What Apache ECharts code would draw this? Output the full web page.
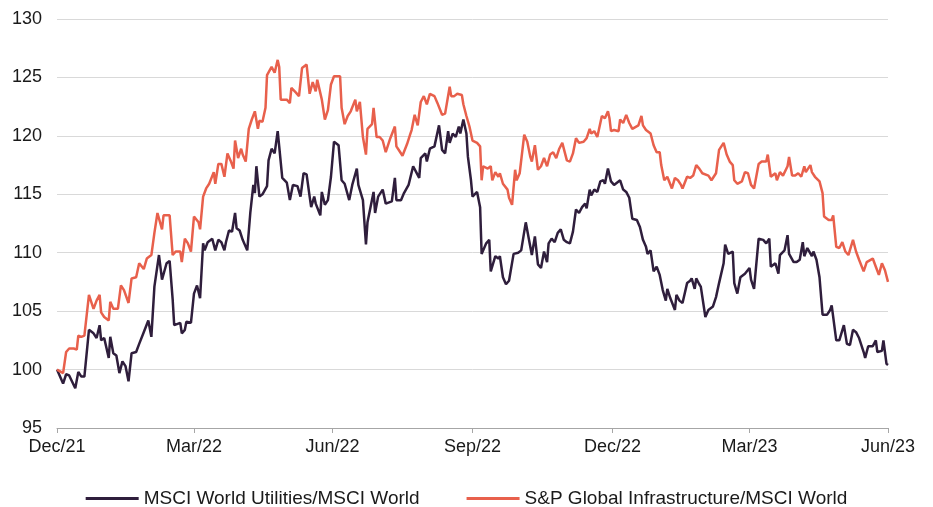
<!DOCTYPE html>
<html>
<head>
<meta charset="utf-8">
<title>Utilities vs Infrastructure relative to MSCI World</title>
<script src="https://cdn.jsdelivr.net/npm/echarts@6/dist/echarts.min.js"></script>
<style>
  html, body { margin: 0; padding: 0; background: #fff; }
  #chart { width: 933px; height: 507px; }
</style>
</head>
<body>
<div id="chart"></div>
<script>
// days since 31 Dec 2021 (start of the index = 100)
var utilDays = [0, 4, 6, 8, 12, 14, 16, 18, 21, 24, 26, 28, 29, 31, 34, 35, 37, 39, 41, 43, 45, 47, 49, 52, 54, 57, 60, 62, 64, 67, 69, 72, 74, 76, 77, 81, 82, 84, 85, 88, 90, 92, 94, 96, 97, 99, 102, 104, 106, 108, 110, 111, 113, 115, 117, 118, 120, 122, 125, 127, 129, 130, 131, 133, 135, 138, 139, 141, 143, 145, 146, 148, 151, 153, 155, 158, 160, 162, 164, 166, 167, 169, 170, 173, 174, 176, 178, 180, 182, 185, 187, 189, 192, 194, 197, 198, 201, 203, 204, 208, 209, 211, 214, 216, 220, 222, 223, 226, 228, 231, 234, 236, 238, 239, 242, 243, 245, 248, 251, 253, 255, 257, 258, 260, 262, 264, 265, 267, 269, 270, 272, 273, 276, 278, 279, 282, 284, 285, 288, 290, 291, 293, 295, 297, 300, 303, 305, 308, 310, 312, 314, 316, 318, 320, 322, 323, 325, 327, 329, 331, 333, 335, 337, 339, 341, 343, 345, 347, 348, 350, 351, 353, 355, 357, 359, 360, 362, 364, 366, 370, 372, 374, 376, 378, 381, 383, 385, 387, 388, 390, 392, 394, 396, 398, 400, 401, 403, 406, 407, 409, 411, 414, 416, 417, 419, 420, 422, 423, 426, 428, 431, 433, 435, 438, 439, 441, 444, 445, 447, 449, 452, 455, 456, 458, 461, 464, 466, 468, 469, 472, 474, 475, 478, 480, 481, 484, 486, 488, 490, 491, 493, 496, 497, 499, 501, 503, 506, 508, 509, 512, 514, 517, 519, 521, 523, 525, 527, 530, 531, 533, 536, 538, 539, 542, 543, 545, 546];
var utilValues = [100.0, 98.8, 99.6, 99.5, 98.4, 99.8, 99.4, 99.4, 103.4, 103.1, 102.7, 103.8, 102.5, 102.7, 101.0, 102.8, 101.4, 101.2, 99.7, 100.7, 100.3, 99.0, 101.4, 101.5, 102.2, 103.2, 104.2, 102.8, 107.1, 109.8, 107.7, 109.1, 109.3, 106.0, 103.8, 104.0, 103.1, 103.4, 104.1, 104.0, 106.5, 107.2, 106.1, 110.8, 110.2, 110.9, 111.2, 110.2, 111.1, 110.9, 110.2, 110.9, 111.9, 111.8, 113.4, 112.1, 111.9, 111.1, 110.2, 113.4, 115.8, 115.1, 117.4, 114.8, 115.0, 115.7, 117.9, 118.9, 118.5, 120.4, 119.1, 116.4, 116.0, 114.5, 115.8, 115.7, 114.8, 116.8, 116.7, 114.8, 113.9, 114.8, 114.2, 113.2, 115.2, 114.1, 114.5, 116.5, 119.5, 119.2, 116.2, 115.9, 114.5, 115.8, 117.2, 115.8, 114.5, 110.7, 112.6, 115.2, 113.4, 114.8, 115.4, 114.2, 114.4, 116.4, 114.5, 114.5, 115.1, 115.8, 117.4, 116.9, 116.4, 118.1, 118.5, 117.8, 118.9, 119.1, 120.9, 118.8, 118.5, 120.4, 119.4, 120.2, 119.9, 120.8, 120.2, 121.4, 120.2, 118.2, 116.2, 114.8, 115.2, 113.9, 109.9, 110.8, 111.1, 108.4, 109.7, 109.5, 109.7, 107.9, 107.3, 107.6, 109.9, 110.0, 110.2, 112.6, 111.2, 109.8, 111.4, 109.0, 108.7, 110.1, 109.2, 110.8, 111.2, 110.9, 111.7, 112.0, 111.1, 110.9, 110.8, 111.8, 113.7, 113.4, 113.9, 114.2, 113.8, 115.4, 114.9, 115.4, 115.2, 116.1, 116.2, 115.9, 117.2, 116.1, 115.8, 116.2, 115.4, 115.2, 114.7, 112.9, 112.8, 112.2, 111.1, 110.5, 109.9, 110.2, 108.4, 108.8, 108.1, 106.8, 105.9, 106.9, 106.1, 105.1, 106.4, 105.9, 105.7, 107.4, 107.6, 107.8, 106.9, 107.8, 107.3, 107.1, 104.5, 105.1, 105.4, 106.2, 107.4, 109.1, 110.7, 109.9, 110.1, 107.4, 106.5, 107.9, 108.2, 108.7, 107.7, 106.9, 111.2, 111.1, 110.8, 111.2, 108.8, 109.1, 108.2, 109.8, 110.2, 111.5, 109.9, 109.2, 109.2, 109.4, 110.9, 109.7, 110.4, 109.7, 110.1, 109.4, 107.9, 104.7, 104.7, 105.1, 105.5, 102.5, 102.5, 103.8, 102.2, 102.1, 103.4, 103.2, 102.7, 101.5, 101.0, 102.0, 102.0, 102.5, 101.5, 101.6, 102.5, 100.5, 100.4];

var infraDays = [0, 4, 6, 8, 11, 13, 14, 16, 18, 21, 24, 26, 28, 29, 31, 34, 35, 37, 40, 42, 44, 47, 49, 52, 54, 57, 59, 62, 64, 66, 69, 70, 74, 76, 78, 81, 82, 84, 86, 88, 90, 93, 94, 96, 98, 100, 103, 104, 106, 108, 110, 112, 114, 116, 117, 119, 121, 122, 124, 126, 128, 130, 132, 133, 135, 137, 138, 141, 143, 145, 146, 147, 151, 153, 154, 157, 159, 161, 164, 165, 166, 168, 170, 171, 174, 176, 178, 180, 182, 186, 187, 189, 191, 193, 196, 197, 199, 201, 203, 204, 207, 208, 210, 212, 214, 216, 219, 222, 223, 225, 227, 230, 232, 233, 235, 237, 239, 241, 243, 245, 248, 250, 253, 255, 258, 259, 261, 263, 266, 267, 269, 271, 273, 276, 278, 279, 280, 283, 285, 286, 288, 290, 291, 293, 296, 297, 299, 301, 302, 304, 307, 309, 311, 312, 314, 316, 318, 320, 322, 324, 326, 328, 330, 332, 335, 337, 339, 341, 343, 346, 348, 350, 351, 353, 355, 357, 358, 360, 362, 363, 364, 366, 369, 370, 372, 374, 376, 378, 382, 384, 385, 387, 390, 392, 394, 396, 397, 399, 401, 404, 406, 408, 410, 411, 414, 416, 418, 420, 422, 424, 428, 430, 433, 435, 438, 440, 442, 444, 445, 447, 450, 452, 454, 456, 458, 461, 463, 466, 467, 469, 472, 473, 475, 477, 480, 481, 483, 485, 487, 489, 491, 492, 495, 496, 498, 501, 503, 504, 507, 509, 510, 512, 514, 516, 518, 520, 523, 525, 527, 530, 532, 536, 538, 540, 542, 544, 546];
var infraValues = [100.0, 99.7, 101.5, 101.8, 101.8, 101.7, 102.9, 102.8, 102.9, 106.4, 105.2, 105.9, 106.4, 104.9, 104.5, 104.2, 105.8, 105.2, 105.2, 107.2, 106.8, 105.7, 107.8, 107.9, 109.1, 108.6, 109.5, 109.8, 111.7, 113.4, 112.0, 113.2, 113.2, 109.8, 110.1, 110.1, 109.2, 111.2, 110.8, 110.1, 113.1, 112.6, 112.0, 114.8, 115.5, 115.9, 116.9, 115.9, 117.6, 117.6, 116.5, 118.5, 117.9, 117.2, 119.6, 118.1, 118.9, 118.4, 117.8, 120.6, 121.4, 122.1, 120.6, 121.3, 121.2, 122.4, 125.2, 125.9, 125.4, 126.5, 125.9, 123.1, 123.1, 122.8, 124.1, 123.7, 123.4, 125.8, 126.1, 126.1, 123.6, 124.6, 123.8, 124.8, 123.1, 121.4, 122.2, 124.4, 125.1, 125.1, 122.4, 121.0, 121.7, 122.1, 123.1, 122.1, 122.9, 119.9, 118.4, 120.6, 121.0, 122.4, 119.9, 119.9, 119.6, 118.6, 119.8, 120.8, 119.1, 118.7, 118.3, 119.3, 120.1, 120.5, 121.8, 120.9, 122.9, 123.4, 122.7, 123.6, 123.4, 122.8, 121.8, 121.9, 124.2, 123.4, 123.4, 123.6, 123.5, 122.7, 121.7, 120.8, 119.6, 119.4, 119.1, 116.2, 117.4, 117.2, 117.4, 116.2, 116.9, 116.5, 116.8, 115.9, 115.4, 114.7, 114.1, 117.1, 116.2, 116.8, 120.1, 119.5, 118.2, 117.8, 119.2, 117.1, 117.4, 118.1, 117.4, 118.4, 118.6, 118.1, 118.9, 119.4, 117.9, 117.8, 118.5, 119.8, 119.4, 119.5, 119.8, 120.6, 120.2, 120.4, 119.9, 121.1, 121.7, 121.5, 122.1, 121.5, 120.4, 120.5, 120.4, 121.4, 121.1, 121.8, 121.1, 120.6, 120.9, 121.7, 120.9, 120.5, 120.2, 119.2, 118.6, 118.6, 117.5, 116.2, 116.5, 115.5, 116.4, 116.2, 115.8, 115.5, 116.5, 116.4, 116.6, 117.5, 117.2, 116.8, 116.6, 116.2, 116.8, 118.8, 119.4, 118.4, 117.8, 117.5, 116.2, 115.9, 116.1, 116.9, 116.8, 115.8, 115.5, 117.6, 117.8, 117.8, 118.4, 116.5, 116.8, 116.2, 116.9, 116.6, 117.4, 118.2, 116.6, 116.6, 116.8, 116.5, 117.4, 116.9, 117.5, 116.9, 116.5, 116.1, 115.1, 113.1, 112.8, 112.8, 113.2, 110.5, 110.4, 110.9, 110.1, 109.8, 111.1, 110.1, 109.4, 108.4, 109.2, 109.5, 108.8, 108.1, 109.1, 108.5, 107.5];

var seriesNames = ['MSCI World Utilities/MSCI World', 'S&P Global Infrastructure/MSCI World'];
// quarter-end ticks, as days since 31 Dec 2021, and their labels
var tickDays = [0, 90, 181, 273, 365, 455, 546];
var tickLabels = ['Dec/21', 'Mar/22', 'Jun/22', 'Sep/22', 'Dec/22', 'Mar/23', 'Jun/23'];

function pairs(days, vals) {
  return days.map(function (d, i) { return [d, vals[i]]; });
}

var chart = echarts.init(document.getElementById('chart'));
var fontFam = '"Liberation Sans", Arial, sans-serif';

chart.setOption({
  animation: false,
  backgroundColor: '#ffffff',
  grid: { left: 57, right: 45, top: 19, bottom: 79 },
  legend: {
    top: 484,
    left: 'center',
    icon: 'rect',
    itemWidth: 53,
    itemHeight: 3,
    itemGap: 47,
    textStyle: { fontSize: 19, color: '#1a1a1a', fontFamily: fontFam },
    data: seriesNames
  },
  xAxis: {
    type: 'value',
    min: tickDays[0],
    max: tickDays[tickDays.length - 1],
    axisLine: { lineStyle: { color: '#a6a6a6', width: 1 } },
    axisTick: { show: true, length: 5, customValues: tickDays, lineStyle: { color: '#a6a6a6' } },
    splitLine: { show: false },
    axisLabel: {
      customValues: tickDays,
      margin: 10,
      fontSize: 18,
      color: '#1a1a1a',
      fontFamily: fontFam,
      formatter: function (v) {
        var i = tickDays.indexOf(v);
        return i >= 0 ? tickLabels[i] : '';
      }
    }
  },
  yAxis: {
    type: 'value',
    min: 95,
    max: 130,
    interval: 5,
    axisLine: { show: false },
    axisTick: { show: false },
    splitLine: { lineStyle: { color: '#d9d9d9', width: 1 } },
    axisLabel: { fontSize: 18, color: '#1a1a1a', fontFamily: fontFam, margin: 15 }
  },
  series: [
    {
      name: seriesNames[0],
      type: 'line',
      showSymbol: false,
      color: '#2f1e3c',
      lineStyle: { width: 2.5, color: '#2f1e3c' },
      data: pairs(utilDays, utilValues)
    },
    {
      name: seriesNames[1],
      type: 'line',
      showSymbol: false,
      color: '#e8604c',
      lineStyle: { width: 2.5, color: '#e8604c' },
      data: pairs(infraDays, infraValues)
    }
  ]
});
</script>
</body>
</html>
